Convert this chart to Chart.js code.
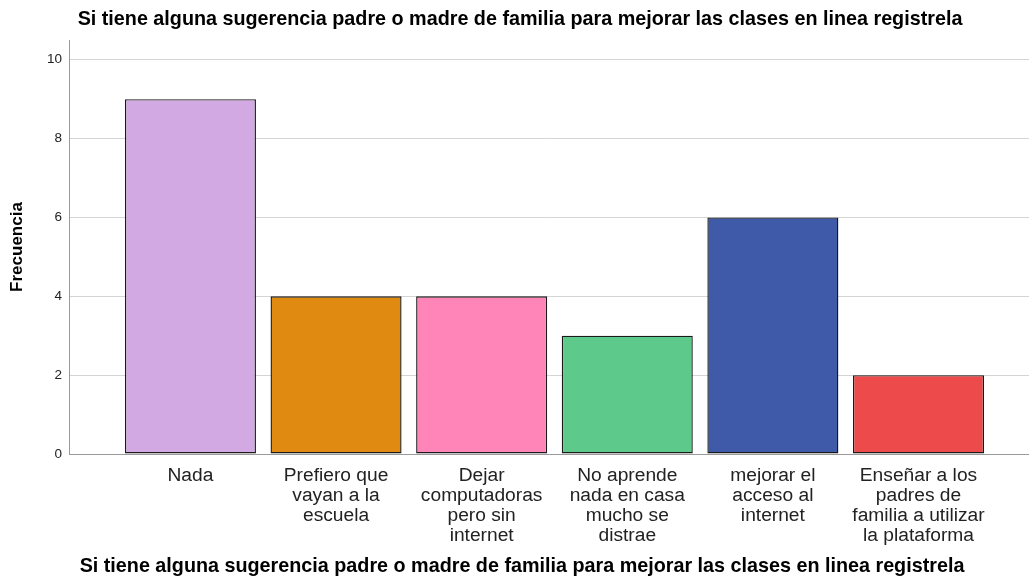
<!DOCTYPE html>
<html>
<head>
<meta charset="utf-8">
<script src="https://cdn.jsdelivr.net/npm/chart.js@4.4.1/dist/chart.umd.min.js"></script>
<style>
  html, body { margin: 0; padding: 0; background: #ffffff; }
  #wrap { width: 1029px; height: 586px; position: relative; }
</style>
</head>
<body>
<div id="wrap"><canvas id="c" width="1029" height="586"></canvas></div>
<script>
const categories = [
  ["Nada"],
  ["Prefiero que", "vayan a la", "escuela"],
  ["Dejar", "computadoras", "pero sin", "internet"],
  ["No aprende", "nada en casa", "mucho se", "distrae"],
  ["mejorar el", "acceso al", "internet"],
  ["Enseñar a los", "padres de", "familia a utilizar", "la plataforma"]
];
const frecuencia = [9, 4, 4, 3, 6, 2];
const yTicks = [0, 2, 4, 6, 8, 10];
const barColors = ["#D2A9E3", "#E08A12", "#FF85B8", "#5DCA8B", "#3E5AA8", "#ED4B4B"];
const chartTitle = "Si tiene alguna sugerencia padre o madre de familia para mejorar las clases en linea registrela";
const yTitle = "Frecuencia";

const FONT = "'Liberation Sans', Arial, sans-serif";

const titlePlugin = {
  id: 'titles',
  afterDraw(chart) {
    const ctx = chart.ctx;
    ctx.save();
    ctx.fillStyle = '#000000';
    ctx.font = "bold 19.75px " + FONT;
    ctx.textAlign = 'center';
    ctx.textBaseline = 'middle';
    ctx.fillText(chartTitle, 520, 20);
    ctx.fillText(chartTitle, 522, 567);
    ctx.restore();
  }
};

new Chart(document.getElementById('c'), {
  type: 'bar',
  data: {
    datasets: [{
      data: frecuencia.map((v, i) => ({ x: i + 1, y: v })),
      backgroundColor: barColors,
      borderColor: '#1a1a1a',
      borderWidth: 1.4,
      borderSkipped: false,
      categoryPercentage: 1,
      barPercentage: 0.9
    }]
  },
  options: {
    responsive: false,
    animation: false,
    layout: { padding: { top: 40, right: 0, bottom: 0, left: 0 } },
    plugins: {
      legend: { display: false },
      tooltip: { enabled: false },
      title: { display: false }
    },
    scales: {
      x: {
        type: 'linear',
        offset: false,
        min: 0.166,
        max: 6.759,
        afterFit(scale) { scale.height = 132; },
        afterBuildTicks(scale) {
          scale.ticks = categories.map((c, i) => ({ value: i + 1 }));
        },
        grid: { display: false, drawTicks: false },
        border: { display: true, color: '#9a9a9a', width: 1 },
        ticks: {
          autoSkip: false,
          maxRotation: 0,
          padding: 12,
          color: '#222222',
          font: { family: FONT, size: 19.2, lineHeight: '20px' },
          callback: (v) => categories[Math.round(v) - 1] || ''
        }
      },
      y: {
        min: 0,
        max: 10.5,
        afterFit(scale) { scale.width = 69; },
        afterBuildTicks(scale) {
          scale.ticks = yTicks.map(v => ({ value: v }));
        },
        grid: { color: '#d4d4d4', lineWidth: 1, drawTicks: false },
        border: { display: true, color: '#9a9a9a', width: 1 },
        ticks: {
          padding: 7,
          color: '#222222',
          font: { family: FONT, size: 13.5 }
        },
        title: {
          display: true,
          text: yTitle,
          color: '#000000',
          font: { family: FONT, size: 17, weight: 'bold' },
          padding: { top: 7, bottom: 0 }
        }
      }
    }
  },
  plugins: [titlePlugin]
});
</script>
</body>
</html>
